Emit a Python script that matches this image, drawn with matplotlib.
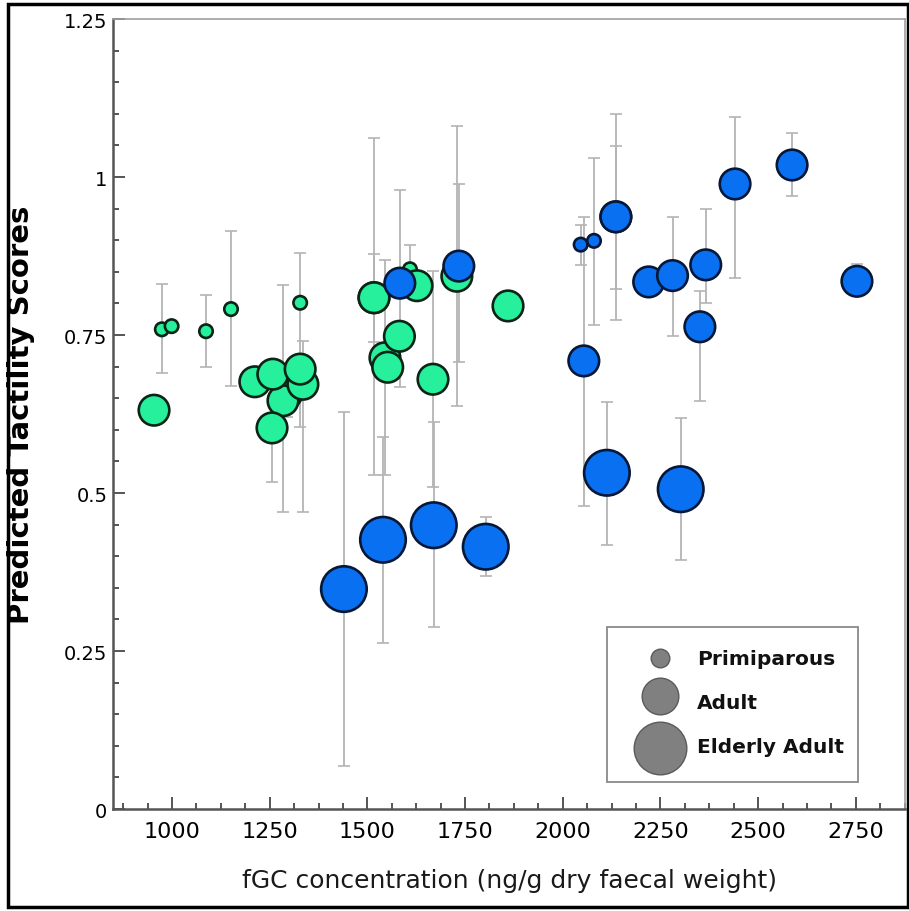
import numpy as np
import matplotlib.pyplot as plt
from matplotlib.patches import Rectangle
from matplotlib.ticker import MultipleLocator, FuncFormatter

# Grupo verde: fGC, puntuación predicha, clase de edad, IC inferior / superior
verde_fgc = [954, 974, 999, 1087, 1151, 1328, 1609,
             1294, 1284, 1335, 1212, 1258, 1328, 1256,
             1517, 1517, 1545, 1552, 1582, 1627, 1668, 1729, 1860]
verde_score = [0.631, 0.759, 0.764, 0.756, 0.791, 0.801, 0.854,
               0.657, 0.646, 0.672, 0.676, 0.688, 0.696, 0.603,
               0.809, 0.809, 0.714, 0.699, 0.748, 0.828, 0.680, 0.843, 0.796]
verde_clase = ['Adult', 'Primiparous', 'Primiparous', 'Primiparous', 'Primiparous',
               'Primiparous', 'Primiparous',
               'Adult', 'Adult', 'Adult', 'Adult', 'Adult', 'Adult', 'Adult',
               'Adult', 'Adult', 'Adult', 'Adult', 'Adult', 'Adult', 'Adult', 'Adult', 'Adult']
verde_inf = [np.nan, 0.690, np.nan, 0.699, 0.669, 0.604, 0.820,
             0.620, 0.470, 0.470, np.nan, np.nan, np.nan, 0.517,
             0.528, 0.739, 0.528, np.nan, np.nan, np.nan, 0.509, 0.638, np.nan]
verde_sup = [np.nan, 0.831, np.nan, 0.813, 0.915, 0.880, 0.893,
             0.700, 0.829, 0.740, np.nan, np.nan, np.nan, 0.680,
             1.062, 0.878, 0.869, np.nan, np.nan, np.nan, 0.851, 1.081, np.nan]

# Grupo azul
azul_fgc = [2046, 2080, 1583, 1734, 2054, 2136, 2136, 2220, 2281, 2351, 2366,
            2441, 2587, 2753, 1440, 1540, 1670, 1803, 2113, 2302]
azul_score = [0.893, 0.899, 0.832, 0.859, 0.709, 0.937, 0.937, 0.834, 0.844, 0.763, 0.861,
              0.989, 1.019, 0.835, 0.348, 0.426, 0.449, 0.415, 0.532, 0.506]
azul_clase = ['Primiparous', 'Primiparous'] + ['Adult'] * 12 + ['Elderly Adult'] * 6
azul_inf = [0.861, 0.766, 0.668, 0.707, 0.479, 0.773, 0.823, np.nan, 0.749, 0.646, 0.800,
            0.840, 0.970, 0.815, 0.068, 0.263, 0.288, 0.369, 0.418, 0.394]
azul_sup = [0.924, 1.030, 0.979, 0.989, 0.937, 1.100, 1.049, np.nan, 0.937, 0.820, 0.949,
            1.095, 1.070, 0.862, 0.628, 0.589, 0.612, 0.462, 0.644, 0.619]

clases = ['Primiparous', 'Adult', 'Elderly Adult']

# Tamaños de marcador (pt^2)
tam = {'Primiparous': 94, 'Adult': 484, 'Elderly Adult': 1075}
tam_leyenda = {'Primiparous': 180, 'Adult': 697, 'Elderly Adult': 1436}

fig = plt.figure(figsize=(9.09, 9.12), dpi=100)
ax = fig.add_axes([113 / 909, 1 - 810 / 912, 792 / 909, 790 / 912])


def dibujar_grupo(fgc, score, clase, inf, sup, color, borde, z):
    fgc = np.array(fgc, dtype=float)
    score = np.array(score, dtype=float)
    inf = np.array(inf, dtype=float)
    sup = np.array(sup, dtype=float)
    ok = ~np.isnan(inf)
    yerr = np.vstack([score[ok] - inf[ok], sup[ok] - score[ok]])
    ax.errorbar(fgc[ok], score[ok], yerr=yerr, fmt='none', ecolor='#b4b4b4',
                elinewidth=1.3, capsize=4.5, capthick=1.2, zorder=1)
    s = [tam[c] for c in clase]
    ax.scatter(fgc, score, s=s, c=color, edgecolors=borde, linewidths=1.9, zorder=z)


dibujar_grupo(verde_fgc, verde_score, verde_clase, verde_inf, verde_sup,
              '#26f09c', '#0c2416', 3)
dibujar_grupo(azul_fgc, azul_score, azul_clase, azul_inf, azul_sup,
              '#0a70f2', '#061838', 4)

ax.set_xlim(849, 2876)
ax.set_ylim(0, 1.25)

ax.xaxis.set_major_locator(MultipleLocator(250))
ax.xaxis.set_minor_locator(MultipleLocator(62.5))
ax.yaxis.set_major_locator(MultipleLocator(0.25))
ax.yaxis.set_minor_locator(MultipleLocator(0.05))
ax.yaxis.set_major_formatter(FuncFormatter(lambda v, p: f'{v:g}'))
ax.set_xticks([1000, 1250, 1500, 1750, 2000, 2250, 2500, 2750])

ax.tick_params(which='both', direction='in', color='#555555', width=1.4)
ax.tick_params(which='major', length=8.5)
ax.tick_params(which='minor', length=4.5)
ax.tick_params(axis='y', labelsize=14, pad=4)
ax.tick_params(axis='x', labelsize=16, pad=9)

for lado in ['left', 'bottom']:
    ax.spines[lado].set_color('#555555')
    ax.spines[lado].set_linewidth(1.8)
for lado in ['top', 'right']:
    ax.spines[lado].set_color('#a0a0a0')
    ax.spines[lado].set_linewidth(1.2)

ax.set_xlabel('fGC concentration (ng/g dry faecal weight)', fontsize=18, color='#1a1a1a')
ax.xaxis.set_label_coords(0.5, -0.075)
ax.set_ylabel('Predicted Tactility Scores', fontsize=21, fontweight='bold')
ax.yaxis.set_label_coords(-0.098, 0.5)

# Leyenda de tamaños dibujada a mano
ax.add_patch(Rectangle((0.6237, 0.0342), 0.317, 0.1962, transform=ax.transAxes,
                       facecolor='white', edgecolor='#8a8a8a', linewidth=1.3, zorder=5))
ley_y = [0.1911, 0.1430, 0.0772]
txt_y = [0.1899, 0.1354, 0.0797]
for c, yc, yt in zip(clases, ley_y, txt_y):
    ax.scatter([0.6907], [yc], s=tam_leyenda[c], c='#808080', edgecolors='#5a5a5a',
               linewidths=1.0, transform=ax.transAxes, zorder=6, clip_on=False)
    ax.text(0.7374, yt, c, transform=ax.transAxes, fontsize=14.5, fontweight='bold',
            va='center', ha='left', color='#111111', zorder=7)

# Marco negro exterior
fig.patches.append(Rectangle((8 / 909, 4 / 912), 900 / 909, 903 / 912,
                             transform=fig.transFigure, fill=False,
                             edgecolor='black', linewidth=2.5))

plt.savefig('out.png', dpi=100)
